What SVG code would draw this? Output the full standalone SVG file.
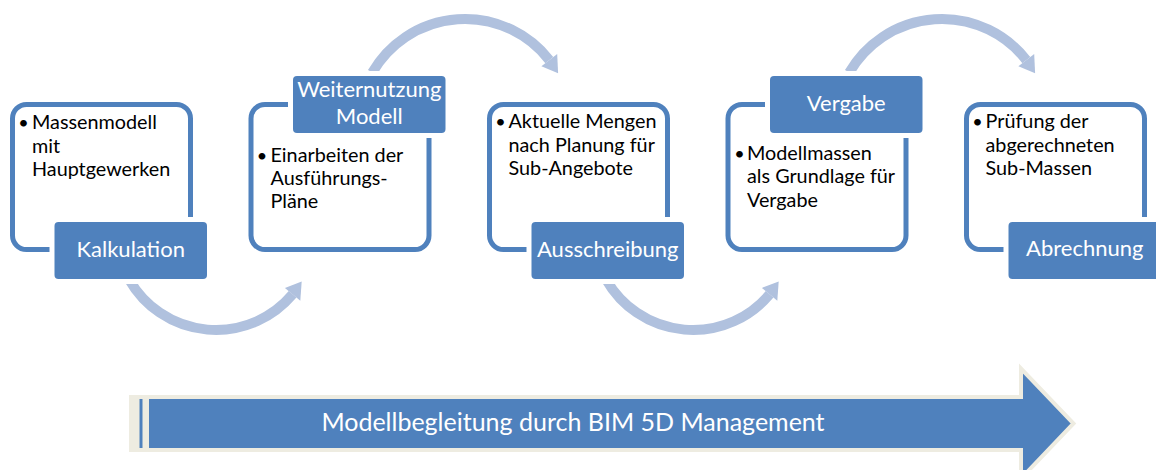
<svg xmlns="http://www.w3.org/2000/svg" width="1156" height="470" viewBox="0 0 1156 470">
  <style>
    .frame { fill: none; stroke: #4F81BD; stroke-width: 5; }
    .gap { fill: #FFFFFF; }
    .label { fill: #4F81BD; }
    .ltext { fill: #FFFFFF; font-family: Lato, "Liberation Sans", sans-serif; font-size: 22px; text-anchor: middle; }
    .btext { fill: #000000; font-family: Lato, "Liberation Sans", sans-serif; font-size: 19.8px; }
    .dot { fill: #000000; font-family: Lato, "Liberation Sans", sans-serif; font-size: 18px; text-anchor: middle; }
    .arc { fill: none; stroke: #B0C1DE; stroke-width: 10; }
    .head { fill: #B0C1DE; }
    .band { fill: #4F81BD; stroke: #EEECE1; stroke-width: 4; stroke-linejoin: miter; }
    .btitle { fill: #FFFFFF; font-family: Lato, "Liberation Sans", sans-serif; font-size: 25px; text-anchor: middle; }
  </style>

  <!-- outline frames -->
  <g id="frames">
    <rect class="frame" x="12.5" y="104.5" width="178" height="145" rx="14"/>
    <rect class="frame" x="251" y="104.5" width="178" height="145" rx="14"/>
    <rect class="frame" x="489.5" y="104.5" width="178" height="145" rx="14"/>
    <rect class="frame" x="728" y="104.5" width="178" height="145" rx="14"/>
    <rect class="frame" x="966.5" y="104.5" width="178" height="145" rx="14"/>
  </g>

  <!-- curved arrows between the steps -->
  <g id="connectors">
    <path class="arc" d="M 129.4 280 A 100 100 0 0 0 292.6 294.3"/>
    <polygon class="head" points="284.9,287.9 300.3,300.7 301.7,281.5"/>
    <path class="arc" d="M 372.3 72.5 A 107 107 0 0 1 549.3 60.1"/>
    <polygon class="head" points="541.4,66.3 557.2,54.0 558.1,73.3"/>
    <path class="arc" d="M 606.4 280 A 100 100 0 0 0 769.6 294.3"/>
    <polygon class="head" points="761.9,287.9 777.3,300.7 778.7,281.5"/>
    <path class="arc" d="M 849.3 72.5 A 107 107 0 0 1 1026.3 60.1"/>
    <polygon class="head" points="1018.4,66.3 1034.2,54.0 1035.1,73.3"/>
  </g>

  <g id="kalkulation">
    <rect class="gap" x="49.5" y="217" width="162.5" height="67"/>
    <rect class="label" x="54.5" y="222" width="152.5" height="57" rx="4"/>
    <text class="ltext" x="130.75" y="257">Kalkulation</text>
    <text class="dot" x="23.5" y="129">•</text>
    <text class="btext" x="32" y="129">Massenmodell</text>
    <text class="btext" x="32" y="152.5">mit</text>
    <text class="btext" x="32" y="176">Hauptgewerken</text>
  </g>

  <g id="weiternutzung">
    <rect class="gap" x="288" y="71" width="162.5" height="67"/>
    <rect class="label" x="293" y="76" width="152.5" height="57" rx="4"/>
    <text class="ltext" x="369.25" y="97">Weiternutzung</text>
    <text class="ltext" x="369.25" y="124">Modell</text>
    <text class="dot" x="262" y="162">•</text>
    <text class="btext" x="270.5" y="162">Einarbeiten der</text>
    <text class="btext" x="270.5" y="185">Ausführungs-</text>
    <text class="btext" x="270.5" y="208">Pläne</text>
  </g>

  <g id="ausschreibung">
    <rect class="gap" x="526.5" y="217" width="162.5" height="67"/>
    <rect class="label" x="531.5" y="222" width="152.5" height="57" rx="4"/>
    <text class="ltext" x="607.75" y="257">Ausschreibung</text>
    <text class="dot" x="500.5" y="128">•</text>
    <text class="btext" x="508.5" y="128">Aktuelle Mengen</text>
    <text class="btext" x="508.5" y="152">nach Planung für</text>
    <text class="btext" x="508.5" y="175">Sub-Angebote</text>
  </g>

  <g id="vergabe">
    <rect class="gap" x="765" y="71" width="162.5" height="67"/>
    <rect class="label" x="770" y="76" width="152.5" height="57" rx="4"/>
    <text class="ltext" x="846.25" y="110.5">Vergabe</text>
    <text class="dot" x="739.5" y="160">•</text>
    <text class="btext" x="747" y="160">Modellmassen</text>
    <text class="btext" x="747" y="183">als Grundlage für</text>
    <text class="btext" x="747" y="207">Vergabe</text>
  </g>

  <g id="abrechnung">
    <rect class="gap" x="1003.5" y="217" width="162.5" height="67"/>
    <rect class="label" x="1008.5" y="222" width="152.5" height="57" rx="4"/>
    <text class="ltext" x="1084.75" y="256">Abrechnung</text>
    <text class="dot" x="977.5" y="128">•</text>
    <text class="btext" x="985.5" y="128">Prüfung der</text>
    <text class="btext" x="985.5" y="152">abgerechneten</text>
    <text class="btext" x="985.5" y="175">Sub-Massen</text>
  </g>

  <!-- striped band arrow along the bottom -->
  <g id="management">
    <rect x="129" y="395" width="20" height="57" fill="#EEECE1"/>
    <rect x="139.5" y="399" width="3" height="49" fill="#4F81BD"/>
    <polygon class="band" points="147,397 1021,397 1021,368.5 1073.5,423.5 1021,478.5 1021,450 147,450"/>
    <text class="btitle" x="573" y="431">Modellbegleitung durch BIM 5D Management</text>
  </g>
</svg>
